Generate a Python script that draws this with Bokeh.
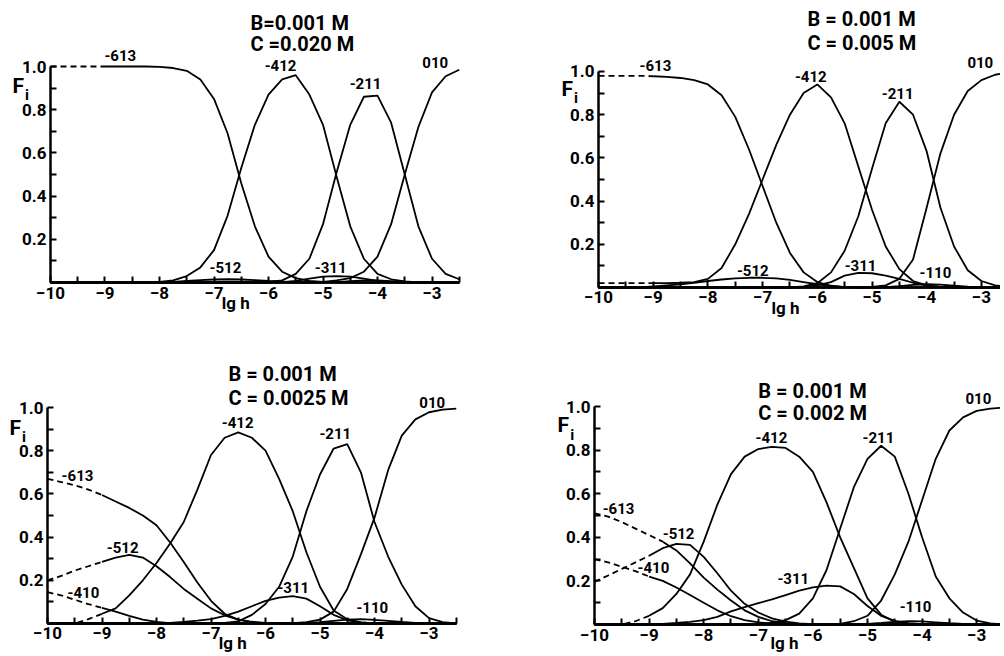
from bokeh.plotting import figure
from bokeh.models import FixedTicker, Label
from bokeh.layouts import row, column
from bokeh.embed import file_html
from bokeh.resources import INLINE

# ---------------- data ----------------
LGH = [-10.0, -9.75, -9.5, -9.25, -9.0, -8.75, -8.5, -8.25, -8.0, -7.75, -7.5,
       -7.25, -7.0, -6.75, -6.5, -6.25, -6.0, -5.75, -5.5, -5.25, -5.0, -4.75,
       -4.5, -4.25, -4.0, -3.75, -3.5, -3.25, -3.0, -2.75, -2.5]

X_TICKS = [-10, -9, -8, -7, -6, -5, -4, -3]
X_MINOR = [-9.5, -8.5, -7.5, -6.5, -5.5, -4.5, -3.5, -2.5]
Y_TICKS = [0.2, 0.4, 0.6, 0.8, 1.0]
Y_MINOR = [0.1, 0.3, 0.5, 0.7, 0.9]
Y_TICK_LABELS = ["0.2", "0.4", "0.6", "0.8", "1.0"]

# Panel 1 : B = 0.001 M, C = 0.020 M
P1_613 = [1.0, 1.0, 1.0, 1.0, 1.0, 1.0, 1.0, 1.0, 0.998, 0.993, 0.98, 0.94, 0.85, 0.69, 0.46, 0.26,
          0.12, 0.05, 0.02, 0.008, 0.003, 0, 0, 0, 0, 0, 0, 0, 0, 0, 0]
P1_512 = [0, 0, 0, 0, 0, 0, 0, 0, 0, 0.003, 0.007, 0.011, 0.014, 0.015, 0.014, 0.011,
          0.007, 0.004, 0.001, 0, 0, 0, 0, 0, 0, 0, 0, 0, 0, 0, 0]
P1_412 = [0, 0, 0, 0, 0, 0, 0, 0, 0.003, 0.01, 0.03, 0.07, 0.15, 0.31, 0.53, 0.73,
          0.87, 0.94, 0.96, 0.87, 0.73, 0.49, 0.26, 0.11, 0.04, 0.015, 0.005, 0, 0, 0, 0]
P1_311 = [0, 0, 0, 0, 0, 0, 0, 0, 0, 0, 0, 0, 0, 0, 0, 0,
          0, 0.002, 0.008, 0.018, 0.027, 0.03, 0.027, 0.018, 0.008, 0.002, 0, 0, 0, 0, 0]
P1_211 = [0, 0, 0, 0, 0, 0, 0, 0, 0, 0, 0, 0, 0, 0, 0, 0,
          0.003, 0.01, 0.04, 0.11, 0.27, 0.51, 0.73, 0.86, 0.865, 0.74, 0.50, 0.26, 0.11, 0.04, 0.015]
P1_110 = [0, 0, 0, 0, 0, 0, 0, 0, 0, 0, 0, 0, 0, 0, 0, 0,
          0, 0, 0, 0, 0, 0.002, 0.006, 0.01, 0.01, 0.006, 0.002, 0, 0, 0, 0]
P1_010 = [0, 0, 0, 0, 0, 0, 0, 0, 0, 0, 0, 0, 0, 0, 0, 0,
          0, 0, 0, 0, 0.003, 0.01, 0.02, 0.05, 0.12, 0.27, 0.50, 0.72, 0.88, 0.955, 0.985]

# Panel 2 : B = 0.001 M, C = 0.005 M
P2_613 = [0.98, 0.98, 0.98, 0.98, 0.978, 0.975, 0.97, 0.96, 0.94, 0.89, 0.79, 0.64, 0.47, 0.30, 0.16, 0.07,
          0.025, 0.008, 0.002, 0, 0, 0, 0, 0, 0, 0, 0, 0, 0, 0, 0]
P2_512 = [0, 0, 0, 0, 0.005, 0.01, 0.015, 0.022, 0.03, 0.037, 0.042, 0.045, 0.045, 0.042, 0.035, 0.025,
          0.015, 0.007, 0.002, 0, 0, 0, 0, 0, 0, 0, 0, 0, 0, 0, 0]
P2_412 = [0.02, 0.02, 0.02, 0.02, 0.02, 0.02, 0.022, 0.025, 0.04, 0.09, 0.20, 0.34, 0.50, 0.66, 0.80, 0.90,
          0.94, 0.88, 0.76, 0.56, 0.36, 0.19, 0.085, 0.03, 0.01, 0.003, 0, 0, 0, 0, 0]
P2_311 = [0, 0, 0, 0, 0, 0, 0, 0, 0, 0, 0, 0, 0, 0, 0, 0.003,
          0.01, 0.025, 0.055, 0.068, 0.066, 0.055, 0.04, 0.022, 0.01, 0.003, 0, 0, 0, 0, 0]
P2_211 = [0, 0, 0, 0, 0, 0, 0, 0, 0, 0, 0, 0, 0, 0, 0, 0.005,
          0.02, 0.07, 0.17, 0.33, 0.55, 0.76, 0.86, 0.80, 0.63, 0.37, 0.19, 0.08, 0.03, 0.01, 0.003]
P2_110 = [0, 0, 0, 0, 0, 0, 0, 0, 0, 0, 0, 0, 0, 0, 0, 0,
          0, 0, 0, 0, 0, 0.002, 0.006, 0.012, 0.015, 0.013, 0.008, 0.004, 0.001, 0, 0]
P2_010 = [0, 0, 0, 0, 0, 0, 0, 0, 0, 0, 0, 0, 0, 0, 0, 0,
          0, 0, 0, 0, 0.003, 0.01, 0.04, 0.13, 0.37, 0.62, 0.80, 0.91, 0.96, 0.985, 0.995]

# Panel 3 : B = 0.001 M, C = 0.0025 M
P3_613 = [0.67, 0.655, 0.64, 0.62, 0.595, 0.565, 0.535, 0.50, 0.455, 0.375, 0.285, 0.19, 0.105, 0.045, 0.018, 0.006,
          0.001, 0, 0, 0, 0, 0, 0, 0, 0, 0, 0, 0, 0, 0, 0]
P3_512 = [0.20, 0.22, 0.245, 0.265, 0.285, 0.305, 0.318, 0.305, 0.265, 0.215, 0.16, 0.115, 0.07, 0.038, 0.018, 0.008,
          0.003, 0, 0, 0, 0, 0, 0, 0, 0, 0, 0, 0, 0, 0, 0]
P3_410 = [0.145, 0.13, 0.11, 0.09, 0.072, 0.055, 0.035, 0.018, 0.007, 0.002, 0, 0, 0, 0, 0, 0,
          0, 0, 0, 0, 0, 0, 0, 0, 0, 0, 0, 0, 0, 0, 0]
P3_412 = [0, 0, 0, 0.02, 0.045, 0.07, 0.13, 0.20, 0.28, 0.37, 0.47, 0.62, 0.78, 0.86, 0.885, 0.86,
          0.80, 0.67, 0.52, 0.33, 0.17, 0.06, 0.02, 0.005, 0.001, 0, 0, 0, 0, 0, 0]
P3_311 = [0, 0, 0, 0, 0, 0, 0, 0, 0, 0.003, 0.007, 0.013, 0.02, 0.035, 0.055, 0.08,
          0.105, 0.12, 0.127, 0.115, 0.08, 0.04, 0.015, 0.005, 0, 0, 0, 0, 0, 0, 0]
P3_211 = [0, 0, 0, 0, 0, 0, 0, 0, 0, 0, 0, 0, 0, 0.003, 0.01, 0.04,
          0.09, 0.17, 0.31, 0.52, 0.69, 0.81, 0.83, 0.70, 0.47, 0.31, 0.18, 0.08, 0.025, 0.006, 0]
P3_110 = [0, 0, 0, 0, 0, 0, 0, 0, 0, 0, 0, 0, 0, 0, 0, 0,
          0, 0, 0, 0.002, 0.006, 0.012, 0.018, 0.02, 0.017, 0.012, 0.007, 0.003, 0.001, 0, 0]
P3_010 = [0, 0, 0, 0, 0, 0, 0, 0, 0, 0, 0, 0, 0, 0, 0, 0,
          0, 0, 0.002, 0.006, 0.018, 0.055, 0.16, 0.32, 0.49, 0.71, 0.87, 0.945, 0.978, 0.99, 0.995]

# Panel 4 : B = 0.001 M, C = 0.002 M
P4_613 = [0.51, 0.495, 0.47, 0.44, 0.41, 0.38, 0.34, 0.28, 0.215, 0.16, 0.11, 0.065, 0.035, 0.015, 0.006, 0.002,
          0, 0, 0, 0, 0, 0, 0, 0, 0, 0, 0, 0, 0, 0, 0]
P4_512 = [0.195, 0.225, 0.255, 0.285, 0.315, 0.35, 0.37, 0.365, 0.31, 0.235, 0.155, 0.095, 0.055, 0.028, 0.013, 0.005,
          0.002, 0, 0, 0, 0, 0, 0, 0, 0, 0, 0, 0, 0, 0, 0]
P4_410 = [0.30, 0.285, 0.265, 0.245, 0.22, 0.20, 0.17, 0.135, 0.10, 0.065, 0.038, 0.02, 0.01, 0.004, 0.001, 0,
          0, 0, 0, 0, 0, 0, 0, 0, 0, 0, 0, 0, 0, 0, 0]
P4_412 = [0, 0, 0, 0.015, 0.04, 0.075, 0.14, 0.23, 0.38, 0.55, 0.69, 0.77, 0.805, 0.815, 0.81, 0.77,
          0.70, 0.56, 0.40, 0.26, 0.12, 0.045, 0.012, 0.003, 0, 0, 0, 0, 0, 0, 0]
P4_311 = [0, 0, 0, 0, 0, 0.003, 0.007, 0.012, 0.02, 0.035, 0.06, 0.08, 0.098, 0.115, 0.135, 0.155,
          0.17, 0.178, 0.175, 0.14, 0.085, 0.04, 0.017, 0.006, 0.002, 0, 0, 0, 0, 0, 0]
P4_211 = [0, 0, 0, 0, 0, 0, 0, 0, 0, 0, 0, 0, 0, 0.008, 0.02, 0.05,
          0.12, 0.25, 0.44, 0.63, 0.76, 0.82, 0.77, 0.60, 0.40, 0.22, 0.12, 0.055, 0.018, 0.005, 0]
P4_110 = [0, 0, 0, 0, 0, 0, 0, 0, 0, 0, 0, 0, 0, 0, 0, 0,
          0, 0, 0, 0, 0.003, 0.007, 0.012, 0.015, 0.014, 0.01, 0.006, 0.003, 0.001, 0, 0]
P4_010 = [0, 0, 0, 0, 0, 0, 0, 0, 0, 0, 0, 0, 0, 0, 0, 0,
          0, 0, 0.003, 0.015, 0.04, 0.11, 0.23, 0.38, 0.57, 0.76, 0.89, 0.95, 0.98, 0.99, 0.995]

B_TEXT = ["B=0.001 M", "B = 0.001 M", "B = 0.001 M", "B = 0.001 M"]
C_TEXT = ["C =0.020 M", "C = 0.005 M", "C = 0.0025 M", "C = 0.002 M"]

# ---------------- styling / layout ----------------
FONT = "Roboto"

# series: (values, label, label_x, label_y, dash_end)
PANELS = [
    dict(series=[(P1_613, "-613", -8.72, 1.05, -9.0), (P1_512, "-512", -6.79, 0.07, None),
                 (P1_412, "-412", -5.78, 1.005, None), (P1_311, "-311", -4.86, 0.07, None),
                 (P1_211, "-211", -4.22, 0.92, None), (P1_110, None, 0, 0, None),
                 (P1_010, "010", -2.94, 1.02, None)],
         w=538, h=340, xr=(-10.9174, -1.046), yr=(-0.2685, 1.3056), x_end=-2.5,
         title_x=-6.33, b_y=1.20, c_y=1.106, f_xy=(-10.59, 0.912), lgh_xy=(-6.6, -0.093)),
    dict(series=[(P2_613, "-613", -8.96, 1.028, -9.0), (P2_512, "-512", -7.18, 0.079, None),
                 (P2_412, "-412", -6.12, 0.977, -9.0), (P2_311, "-311", -5.21, 0.102, None),
                 (P2_211, "-211", -4.53, 0.898, None), (P2_110, "-110", -3.84, 0.069, None),
                 (P2_010, "010", -3.02, 1.04, None)],
         w=462, h=340, xr=(-11.097, -2.651), yr=(-0.2454, 1.3287), x_end=-2.651,
         title_x=-6.18, b_y=1.245, c_y=1.134, f_xy=(-10.57, 0.92), lgh_xy=(-6.58, -0.097)),
    dict(series=[(P3_613, "-613", -9.45, 0.685, -9.0), (P3_512, "-512", -8.62, 0.352, -9.0),
                 (P3_410, "-410", -9.34, 0.144, -9.0), (P3_412, "-412", -6.51, 0.93, -9.0),
                 (P3_311, "-311", -5.49, 0.167, None), (P3_211, "-211", -4.72, 0.88, None),
                 (P3_110, "-110", -4.04, 0.074, None), (P3_010, "010", -2.94, 1.023, None)],
         w=538, h=312, xr=(-10.8624, -0.991), yr=(-0.1343, 1.3102), x_end=-2.5,
         title_x=-6.68, b_y=1.157, c_y=1.046, f_xy=(-10.59, 0.907), lgh_xy=(-6.6, -0.09)),
    dict(series=[(P4_613, "-613", -9.56, 0.532, -8.75), (P4_512, "-512", -8.46, 0.417, -9.0),
                 (P4_410, "-410", -8.92, 0.261, -9.0), (P4_412, "-412", -6.76, 0.858, -9.0),
                 (P4_311, "-311", -6.36, 0.211, None), (P4_211, "-211", -4.8, 0.858, None),
                 (P4_110, "-110", -4.12, 0.083, None), (P4_010, "010", -2.97, 1.037, None)],
         w=462, h=312, xr=(-11.0256, -2.564), yr=(-0.1284, 1.3028), x_end=-2.564,
         title_x=-7.0, b_y=1.069, c_y=0.968, f_xy=(-10.57, 0.913), lgh_xy=(-6.52, -0.086)),
]


def make_panel(i, cfg):
    p = figure(x_range=cfg["xr"], y_range=cfg["yr"], width=cfg["w"], height=cfg["h"],
               min_border_left=0, min_border_top=0, min_border_right=0, min_border_bottom=0,
               toolbar_location=None, output_backend="svg")
    p.xgrid.visible = False
    p.ygrid.visible = False
    p.outline_line_color = None
    p.background_fill_color = "white"
    p.border_fill_color = "white"

    p.xaxis.fixed_location = 0
    p.yaxis.fixed_location = -10
    p.xaxis.bounds = (-10, cfg["x_end"])
    p.yaxis.bounds = (0, 1.0)
    p.xaxis.ticker = FixedTicker(ticks=X_TICKS, minor_ticks=X_MINOR)
    p.yaxis.ticker = FixedTicker(ticks=Y_TICKS, minor_ticks=Y_MINOR)
    p.yaxis.major_label_overrides = {t: s for t, s in zip(Y_TICKS, Y_TICK_LABELS)}
    for ax in (p.xaxis[0], p.yaxis[0]):
        ax.axis_line_width = 2.5
        ax.axis_line_color = "black"
        ax.major_tick_in = 6
        ax.major_tick_out = 0
        ax.minor_tick_in = 6
        ax.minor_tick_out = 0
        ax.major_tick_line_width = 2
        ax.minor_tick_line_width = 2
        ax.major_tick_line_color = "black"
        ax.minor_tick_line_color = "black"
        ax.major_label_text_font = FONT
        ax.major_label_text_font_style = "bold"
        ax.major_label_text_font_size = "17px"
        ax.major_label_text_color = "black"
        ax.major_label_standoff = 4

    for vals, lab, lx, ly, dash_end in cfg["series"]:
        if dash_end is None:
            p.line(LGH, vals, line_color="black", line_width=1.8)
        else:
            xd = [x for x in LGH if x <= dash_end]
            yd = [v for x, v in zip(LGH, vals) if x <= dash_end]
            xs = [x for x in LGH if x >= dash_end]
            ys = [v for x, v in zip(LGH, vals) if x >= dash_end]
            p.line(xd, yd, line_color="black", line_width=1.8, line_dash="6 4")
            p.line(xs, ys, line_color="black", line_width=1.8)
        if lab is not None:
            p.add_layout(Label(x=lx, y=ly, text=lab, text_align="center", text_baseline="middle",
                               text_font=FONT, text_font_style="bold", text_font_size="15px",
                               text_color="black"))

    for txt, ty in ((B_TEXT[i], cfg["b_y"]), (C_TEXT[i], cfg["c_y"])):
        p.add_layout(Label(x=cfg["title_x"], y=ty, text=txt, text_align="left",
                           text_baseline="middle", text_font=FONT, text_font_style="bold",
                           text_font_size="20px", text_color="black"))
    fx, fy = cfg["f_xy"]
    p.add_layout(Label(x=fx, y=fy, text="F", text_align="center", text_baseline="middle",
                       text_font=FONT, text_font_style="bold", text_font_size="21px",
                       text_color="black"))
    p.add_layout(Label(x=fx + 0.16, y=fy - 0.045, text="i", text_align="center", text_baseline="middle",
                       text_font=FONT, text_font_style="bold", text_font_size="15px",
                       text_color="black"))
    lx, ly = cfg["lgh_xy"]
    p.add_layout(Label(x=lx, y=ly, text="lg h", text_align="center", text_baseline="middle",
                       text_font=FONT, text_font_style="bold", text_font_size="17px",
                       text_color="black"))
    return p


figs = [make_panel(i, c) for i, c in enumerate(PANELS)]
layout = column(row(figs[0], figs[1]), row(figs[2], figs[3]))

open("out.html", "w").write(file_html(layout, INLINE))
